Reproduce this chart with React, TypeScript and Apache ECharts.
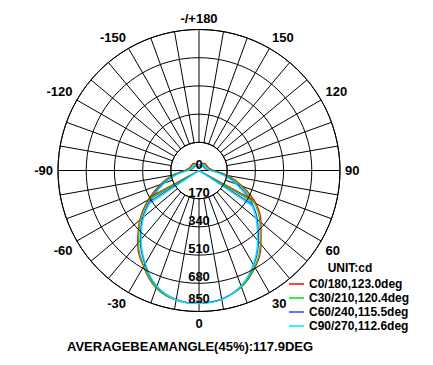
import React, { useEffect, useRef } from 'react';
import * as echarts from 'echarts';

// gamma angles (deg from nadir), one value per step in each half-plane
const gammaAngles = [0, 10, 20, 30, 40, 50, 60, 70, 80, 90, 100, 110, 120, 130, 140, 150, 160, 170, 180];

const planeNames = ['C0/180,123.0deg', 'C30/210,120.4deg', 'C60/240,115.5deg', 'C90/270,112.6deg'];
const planeColors = ['#ff0000', '#00e000', '#3c3cff', '#00e8ff'];
const beamAngles = [123.0, 120.4, 115.5, 112.6];

// intensities (cd), right half-plane (C0, C30, C60, C90)
const c0 = [800, 788, 748, 676, 582, 488, 396, 280, 178, 91, 65, 58, 55, 55, 55, 50, 42, 35, 30];
const c30 = [800, 788, 746, 671, 574, 478, 383, 268, 168, 85, 58, 50, 48, 48, 48, 45, 38, 32, 28];
const c60 = [800, 787, 741, 659, 558, 459, 358, 248, 151, 73, 45, 38, 36, 36, 36, 34, 30, 26, 22];
const c90 = [802, 790, 741, 654, 549, 448, 342, 237, 141, 69, 50, 44, 42, 42, 42, 40, 35, 30, 25];
// intensities (cd), left half-plane (C180, C210, C240, C270)
const c180 = [800, 794, 754, 669, 575, 467, 354, 252, 163, 86, 65, 58, 55, 55, 55, 50, 42, 35, 30];
const c210 = [800, 793, 751, 664, 567, 460, 343, 244, 155, 81, 58, 50, 48, 48, 48, 45, 38, 32, 28];
const c240 = [800, 790, 744, 652, 551, 444, 328, 230, 141, 69, 45, 38, 36, 36, 36, 34, 30, 26, 22];
const c270 = [802, 792, 741, 646, 542, 433, 317, 222, 133, 66, 50, 44, 42, 42, 42, 40, 35, 30, 25];

const rightPlanes = [c0, c30, c60, c90];
const leftPlanes = [c180, c210, c240, c270];

const radiusTicks = [0, 170, 340, 510, 680, 850];
const angleLabelValues = [0, 30, 60, 90, 120, 150, 180, 210, 240, 270, 300, 330];

const unitText = 'UNIT:cd';
const beamText = 'AVERAGEBEAMANGLE(45%):117.9DEG';

const FONT = '"Liberation Sans", Arial, sans-serif';
const CX = 199;
const CY = 170.5;
const R = 141;

function interp(vals: number[], g: number) {
  const i = Math.floor(g / 10);
  const t = (g - i * 10) / 10;
  return vals[i] + (vals[i + 1] - vals[i]) * t;
}

export default function App() {
  const ref = useRef<HTMLDivElement>(null);
  useEffect(() => {
    if (!ref.current) return;
    const chart = echarts.init(ref.current, undefined, { renderer: 'svg' });

    const series: any[] = [];
    planeNames.forEach((name, k) => {
      const right = rightPlanes[k];
      const left = leftPlanes[k];
      const data: number[][] = [];
      for (let i = gammaAngles.length - 1; i >= 0; i--) data.push([right[i], gammaAngles[i]]);
      for (let i = 1; i < gammaAngles.length; i++) data.push([left[i], 360 - gammaAngles[i]]);
      series.push({
        type: 'line',
        name,
        coordinateSystem: 'polar',
        data,
        smooth: 0.4,
        symbol: 'none',
        lineStyle: { color: planeColors[k], width: 1.2 },
        itemStyle: { color: planeColors[k] },
        z: 2,
      });
    });
    planeNames.forEach((name, k) => {
      const h = beamAngles[k] / 2;
      series.push({
        type: 'line',
        name: name + ' beam',
        coordinateSystem: 'polar',
        data: [
          [interp(leftPlanes[k], h), 360 - h],
          [0, 0],
          [interp(rightPlanes[k], h), h],
        ],
        symbol: 'none',
        lineStyle: { color: planeColors[k], width: 1.2 },
        z: 2,
      });
    });

    chart.setOption({
      animation: false,
      polar: { center: [CX, CY], radius: R },
      angleAxis: {
        type: 'value',
        min: 0,
        max: 360,
        interval: 10,
        startAngle: -90,
        clockwise: false,
        axisLine: { show: true, lineStyle: { color: '#000', width: 1 } },
        axisTick: { show: false },
        splitLine: { show: true, lineStyle: { color: '#000', width: 1 } },
        axisLabel: {
          margin: 5,
          color: '#000',
          fontSize: 13,
          fontWeight: 'bold',
          fontFamily: FONT,
          formatter: (v: number) => {
            if (angleLabelValues.indexOf(v) < 0) return '';
            if (v === 180) return '-/+180';
            return v > 180 ? String(v - 360) : String(v);
          },
        },
        z: 0,
      },
      radiusAxis: {
        type: 'value',
        min: radiusTicks[0],
        max: radiusTicks[radiusTicks.length - 1],
        interval: radiusTicks[1] - radiusTicks[0],
        axisLine: { show: false },
        axisTick: { show: false },
        splitLine: { show: true, lineStyle: { color: '#000', width: 1 } },
        axisLabel: {
          margin: 0,
          align: 'center',
          verticalAlign: 'bottom',
          color: '#000',
          fontSize: 13,
          fontWeight: 'bold',
          fontFamily: FONT,
          formatter: (v: number) => (v === radiusTicks[radiusTicks.length - 1] ? '{hi|' + v + '}' : String(v)),
          rich: {
            hi: { padding: [0, 0, 7, 0], color: '#000', fontSize: 13, fontWeight: 'bold', fontFamily: FONT },
          },
        },
        z: 5,
      },
      legend: {
        data: planeNames,
        orient: 'vertical',
        left: 284,
        top: 272,
        icon: 'rect',
        itemWidth: 15,
        itemHeight: 1.5,
        itemGap: 0,
        textStyle: { color: '#000', fontSize: 12, fontWeight: 'bold', fontFamily: FONT, lineHeight: 14 },
      },
      graphic: [
        {
          type: 'circle',
          z: 1,
          shape: { cx: CX, cy: CY, r: (R * radiusTicks[1]) / radiusTicks[radiusTicks.length - 1] },
          style: { fill: '#fff', stroke: '#000', lineWidth: 1 },
        },
        {
          type: 'line',
          z: 1,
          shape: { x1: CX - R, y1: CY, x2: CX + R, y2: CY },
          style: { stroke: '#000', lineWidth: 1 },
        },
        {
          type: 'text',
          z: 5,
          x: 350,
          y: 268,
          style: { text: unitText, fill: '#000', font: 'bold 12px ' + FONT, textAlign: 'center', textVerticalAlign: 'middle' },
        },
        {
          type: 'text',
          z: 5,
          x: 67,
          y: 346,
          style: { text: beamText, fill: '#000', font: 'bold 13px ' + FONT, textAlign: 'left', textVerticalAlign: 'middle' },
        },
      ],
      series,
    });
    return () => chart.dispose();
  }, []);
  return <div ref={ref} style={{ position: 'absolute', left: 0, top: 0, width: 433, height: 365 }} />;
}
